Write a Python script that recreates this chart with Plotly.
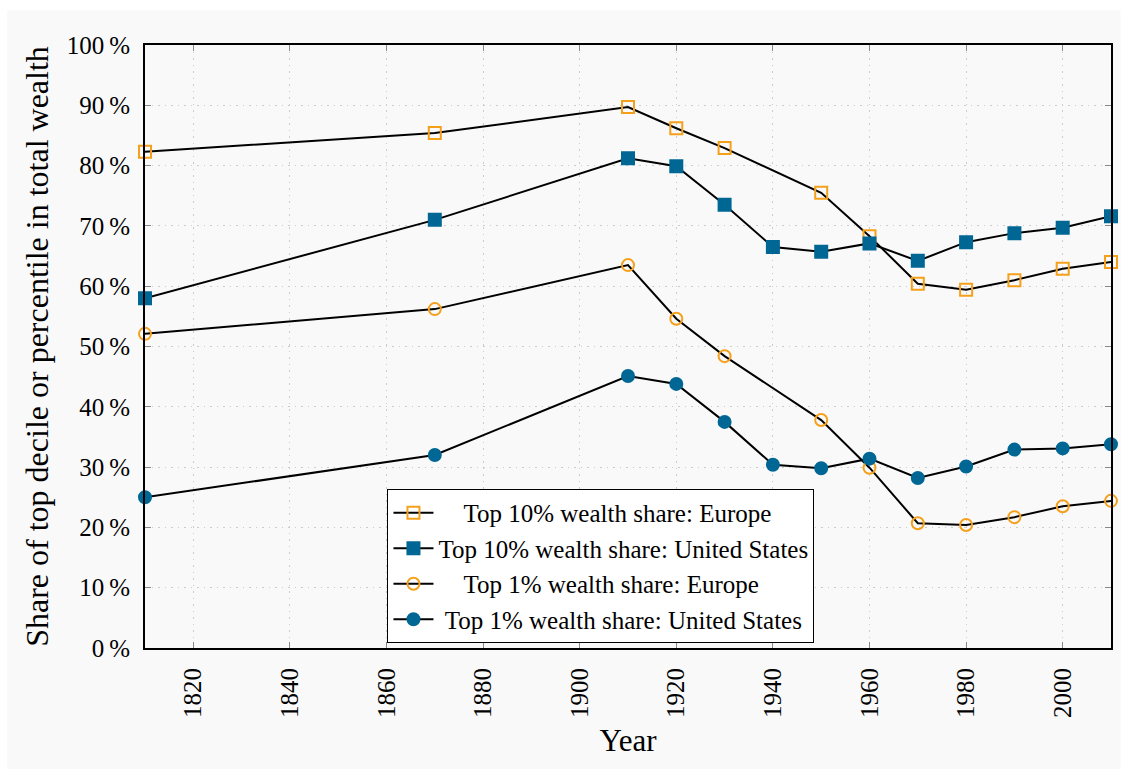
import plotly.graph_objects as go

# Wealth concentration: top decile and top percentile shares, Europe vs United States
years_eu = [1810, 1870, 1910, 1920, 1930, 1950, 1960, 1970, 1980, 1990, 2000, 2010]
years_us = [1810, 1870, 1910, 1920, 1930, 1940, 1950, 1960, 1970, 1980, 1990, 2000, 2010]

top10_europe = [82.3, 85.4, 89.7, 86.2, 82.9, 75.5, 68.3, 60.4, 59.4, 61.0, 62.9, 64.0]
top10_us = [58.0, 71.0, 81.2, 79.9, 73.5, 66.5, 65.7, 67.1, 64.2, 67.3, 68.8, 69.7, 71.6]
top1_europe = [52.1, 56.2, 63.5, 54.6, 48.4, 37.8, 29.9, 20.7, 20.4, 21.7, 23.5, 24.4]
top1_us = [25.0, 32.0, 45.1, 43.8, 37.5, 30.4, 29.8, 31.4, 28.2, 30.1, 32.9, 33.1, 33.8]

x_ticks = [1820, 1840, 1860, 1880, 1900, 1920, 1940, 1960, 1980, 2000]
y_ticks = [0, 10, 20, 30, 40, 50, 60, 70, 80, 90, 100]
y_tick_labels = [f"{v}\u2009%" for v in y_ticks]

ORANGE = "#F5A01A"
BLUE = "#006794"
FONT = "Liberation Serif, Times New Roman, serif"

series = [
    ("Top 10% wealth share: Europe", years_eu, top10_europe, "square-open", ORANGE),
    ("Top 10% wealth share: United States", years_us, top10_us, "square", BLUE),
    ("Top 1% wealth share: Europe", years_eu, top1_europe, "circle-open", ORANGE),
    ("Top 1% wealth share: United States", years_us, top1_us, "circle", BLUE),
]

# pad legend labels with non-breaking spaces so they sit centred in the box
longest = max(len(s[0]) for s in series)

def centred(label):
    pad = round((longest - len(label)) * 0.55)
    return "\u00a0" * pad + label

fig = go.Figure()
for name, xs, ys, sym, col in series:
    fig.add_trace(go.Scatter(
        x=xs, y=ys, name=centred(name), mode="lines+markers",
        line=dict(color="black", width=2),
        marker=dict(symbol=sym, size=12, color=col,
                    line=dict(color=col, width=2)),
        cliponaxis=False,
    ))

# light grey panel behind the whole chart
fig.add_shape(type="rect", xref="paper", yref="paper",
              x0=-0.1426, x1=1.01, y0=-0.21, y1=1.058,
              fillcolor="#f9f9f9", line=dict(width=0), layer="below")

axis_common = dict(
    showline=True, linecolor="black", linewidth=2, mirror="ticks",
    ticks="inside", ticklen=6, tickcolor="#888888", tickwidth=1,
    showgrid=True, gridcolor="#cccccc", griddash="1.5px,5px", gridwidth=1,
    zeroline=False,
    tickfont=dict(family=FONT, size=25, color="black"),
)

fig.update_xaxes(
    range=[1810, 2010], tickvals=x_ticks, ticktext=[str(v) for v in x_ticks],
    tickangle=-90, ticklabelstandoff=8,
    title=dict(text="Year", font=dict(family=FONT, size=31, color="black"), standoff=12),
    **axis_common,
)
fig.update_yaxes(
    range=[0, 100], tickvals=y_ticks, ticktext=y_tick_labels,
    ticklabelstandoff=8,
    title=dict(text="Share of top decile or percentile in total wealth",
               font=dict(family=FONT, size=32, color="black"), standoff=8),
    **axis_common,
)

fig.update_layout(
    width=1121, height=769,
    margin=dict(l=145, r=8, t=45, b=121),
    paper_bgcolor="white", plot_bgcolor="#f9f9f9",
    font=dict(family=FONT, color="black"),
    legend=dict(
        x=0.251, y=0.2637, xanchor="left", yanchor="top",
        bgcolor="white", bordercolor="black", borderwidth=1,
        font=dict(family=FONT, size=25, color="black"),
        itemwidth=40, tracegroupgap=0,
    ),
)

fig.write_html("out.html")
